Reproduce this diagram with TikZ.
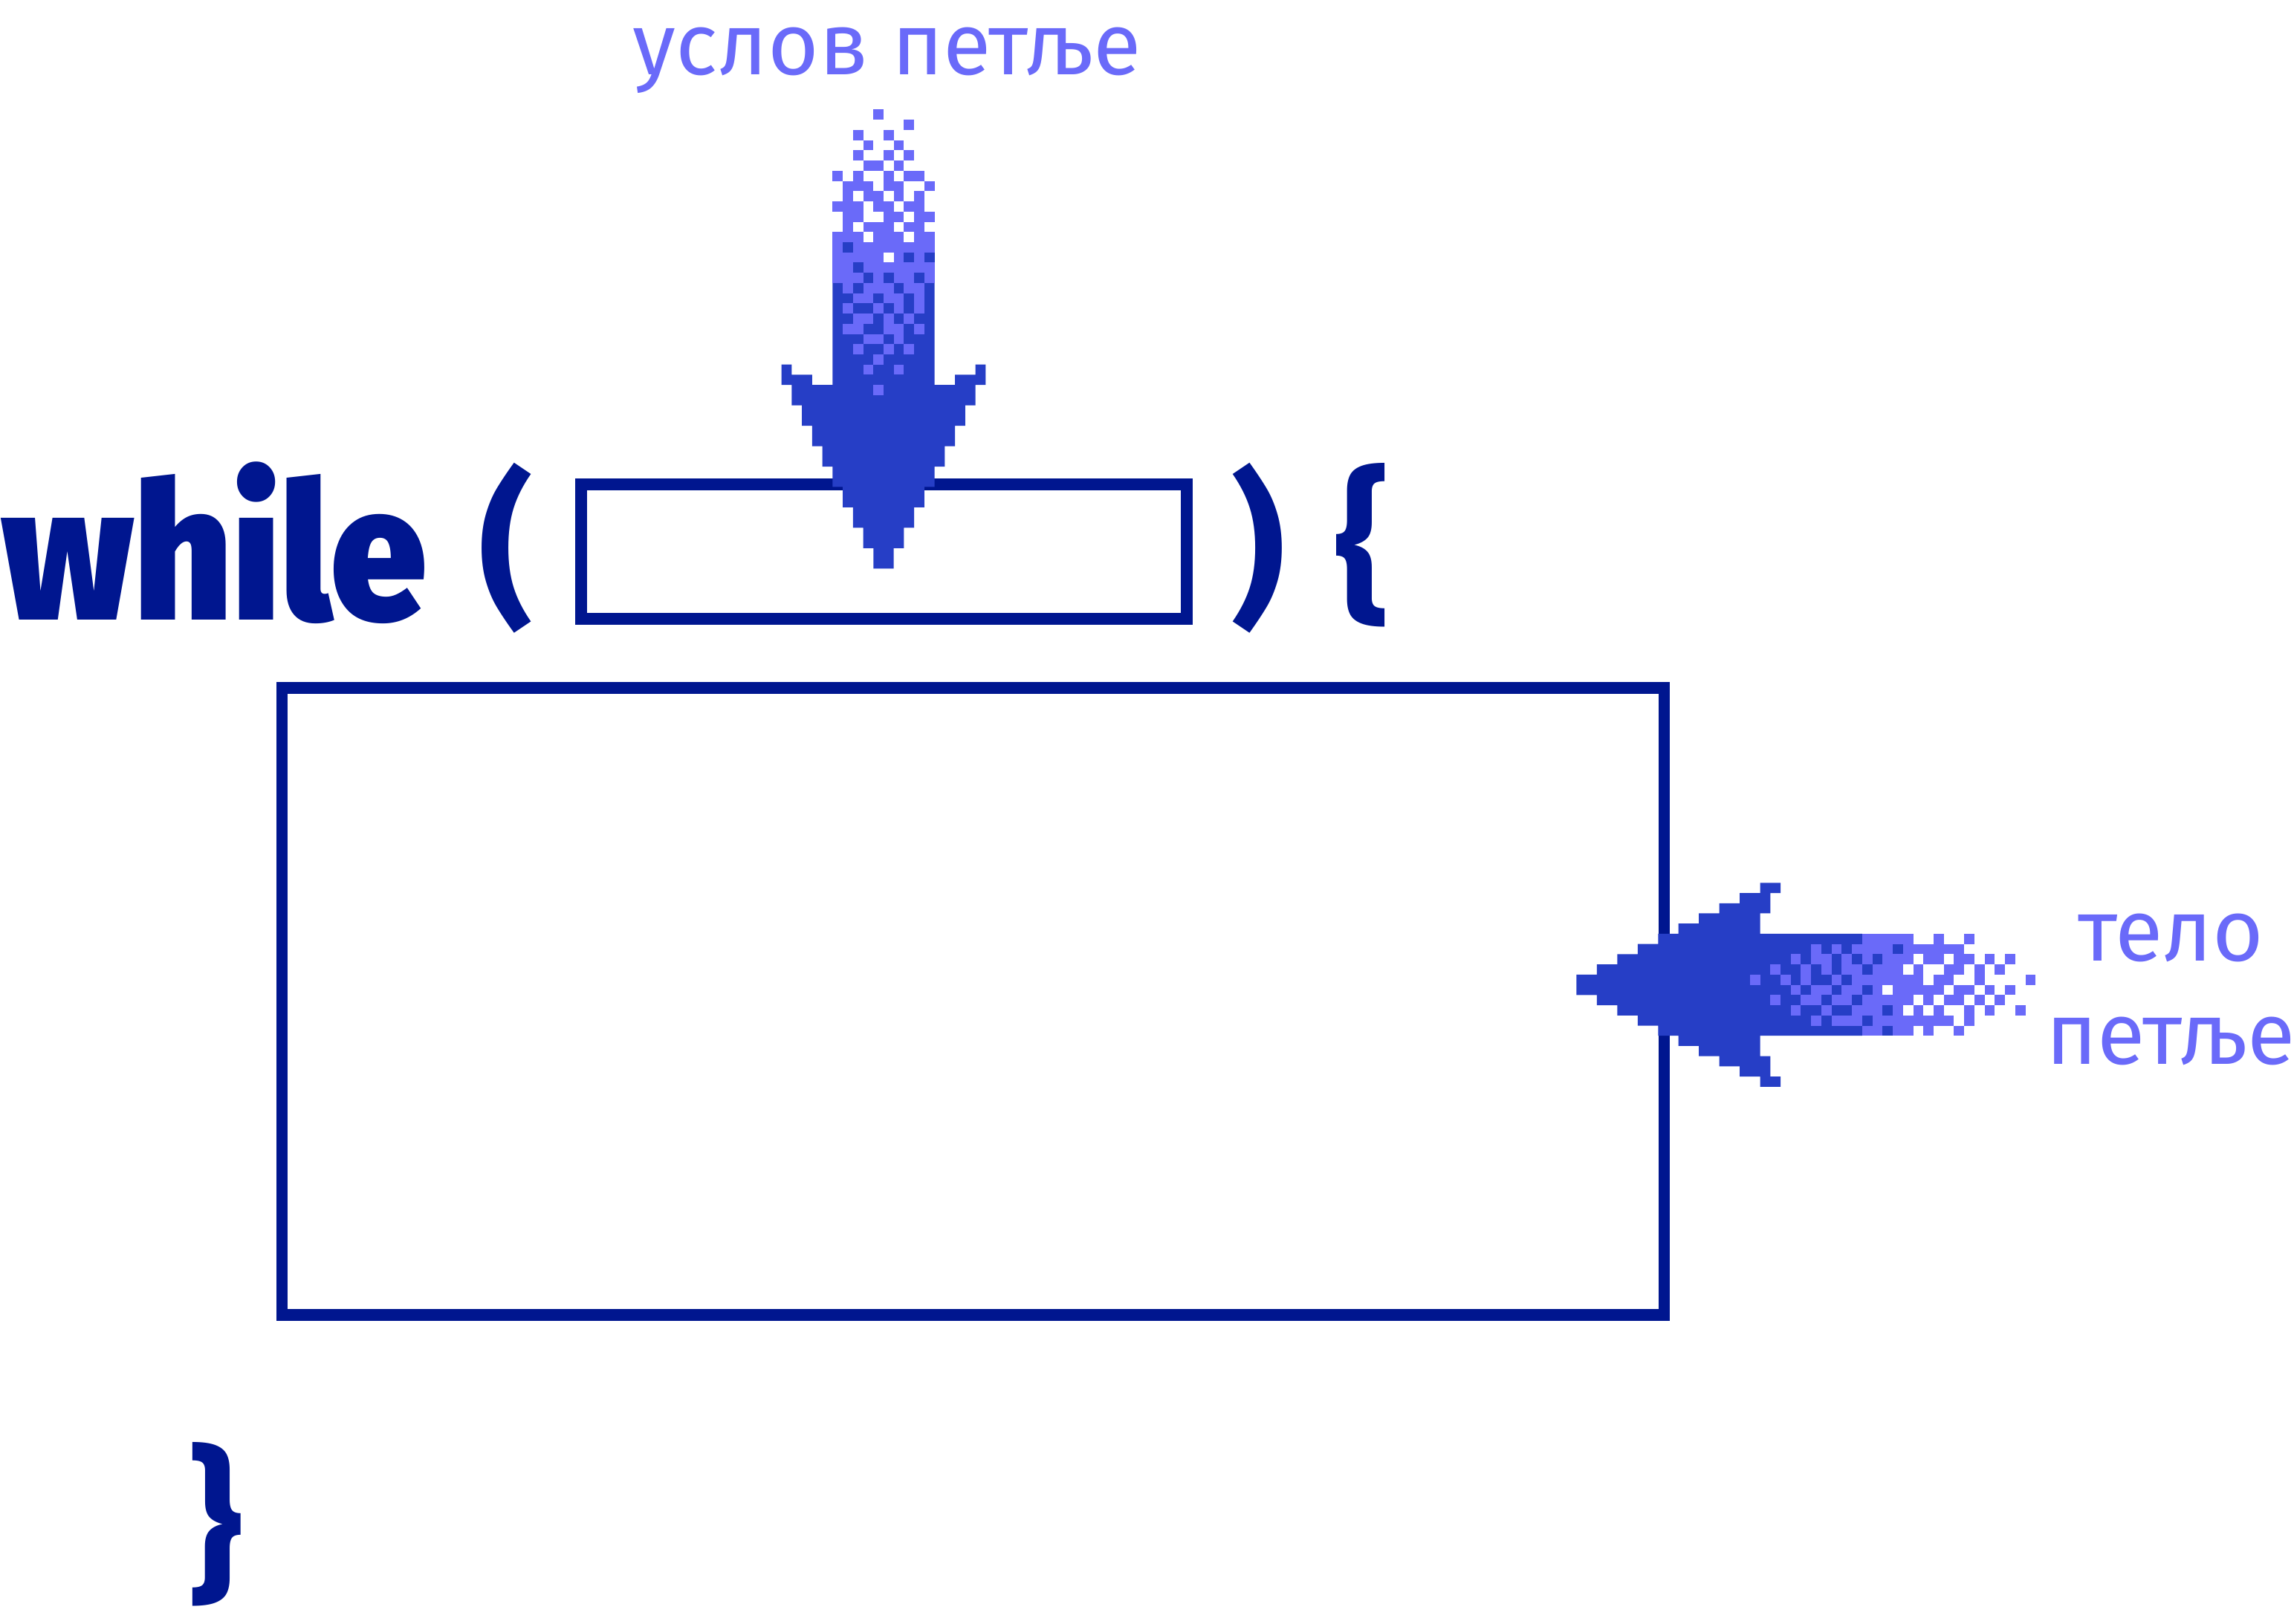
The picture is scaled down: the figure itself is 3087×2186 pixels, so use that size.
\documentclass[tikz,border=0pt]{standalone}
\usepackage{fontspec}
\setmainfont{Fira Sans}
\newfontfamily\kwfont{Fira Sans Black}
\usepackage{tikz}
\usepackage{xcolor}

\definecolor{codeblue}{HTML}{00168F}
\definecolor{arrowblue}{HTML}{263EC6}
\definecolor{pixlite}{HTML}{6A6AF9}

\tikzset{
  kwtext/.style={inner sep=0pt,text=codeblue,font=\kwfont\fontsize{73}{80}\selectfont},
  parentext/.style={inner sep=0pt,text=codeblue,font=\bfseries\fontsize{64}{70}\selectfont},
  labeltext/.style={inner sep=0pt,text=pixlite,align=center,font=\fontsize{33.5}{39.7}\selectfont},
  codebox/.style={draw=codeblue,line width=4.5pt,inner sep=0pt},
  darkpx/.style={fill=arrowblue},
  litepx/.style={fill=pixlite},
  whitepx/.style={fill=white}
}

\begin{document}
\begin{tikzpicture}[x=0.01cm,y=-0.01cm]
\useasboundingbox (0,0) rectangle (3087,2186);

%code line
\node[kwtext,anchor=base west] (kw) at (2,835) {\scalebox{0.9}[1]{while}};
\node[parentext,anchor=base] (lpar) at (681,817) {(};
\node[parentext,anchor=base] (rpar) at (1693,817) {)};
\node[parentext,anchor=base] (lbrace) at (1833,813) {\{};
\node[parentext,anchor=base] (rbrace) at (290,2130) {\}};

%boxes
\node[codebox,minimum width=8.15cm,minimum height=1.81cm] (cond) at (1189.5,742.5) {};
\node[codebox,minimum width=18.59cm,minimum height=8.44cm] (body) at (1309.5,1348) {};

%labels
\node[labeltext,anchor=base] (condlabel) at (1194,101) {услов петље};
\node[labeltext,anchor=base] (bodylabel) at (2921,1433) {тело\\петље};

%condition arrow
\begin{scope}[shift={(1051.7,147.5)},scale=13.73]
\fill[darkpx] (5,17)--(15,17)--(15,27)--(17,27)--(17,26)--(19,26)--(19,25)--(20,25)--(20,27)--(19,27)
  --(19,29)--(18,29)--(18,31)--(17,31)--(17,33)--(16,33)--(16,35)--(15,35)--(15,37)--(14,37)
  --(14,39)--(13,39)--(13,41)--(12,41)--(12,43)--(11,43)--(11,45)--(9,45)--(9,43)--(8,43)
  --(8,41)--(7,41)--(7,39)--(6,39)--(6,37)--(5,37)--(5,35)--(4,35)--(4,33)--(3,33)--(3,31)
  --(2,31)--(2,29)--(1,29)--(1,27)--(0,27)--(0,25)--(1,25)--(1,26)--(3,26)--(3,27)--(5,27)--cycle;
\fill[litepx] (5,12) rectangle (15,17);
\foreach \r/\cols in {0/{9},1/{12},2/{7,10},3/{8,11},4/{7,10,12},5/{8,9,11},6/{5,7,10,12,13},
    7/{6,7,8,10,11,14},8/{6,8,9,11,13},9/{5,6,7,9,10,12,13},10/{6,7,10,11,13,14},11/{6,8,9,10,12,13},
    17/{6,8,9,10,12,13},18/{7,8,10,11,13},19/{6,9,11,13},20/{7,8,10,12},21/{6,7,10,11,13},
    22/{8,9,11},23/{7,10,12},24/{9},25/{8,11},27/{9}}
  \foreach \c in \cols \fill[litepx] (\c,\r) rectangle ++(1,1);
\foreach \c/\r in {8/12,12/12,10/14}
  \fill[whitepx] (\c,\r) rectangle ++(1,1);
\foreach \c/\r in {6/13,12/14,14/14,7/15,8/16,10/16,13/16}
  \fill[darkpx] (\c,\r) rectangle ++(1,1);
\end{scope}

%body arrow
\begin{scope}[shift={(2121.4,1188.3)},scale=13.73]
\fill[darkpx] (18,0)--(20,0)--(20,1)--(19,1)--(19,3)--(18,3)--(18,5)--(28,5)--(28,15)--(18,15)
  --(18,17)--(19,17)--(19,19)--(20,19)--(20,20)--(18,20)--(18,19)--(16,19)--(16,18)--(14,18)
  --(14,17)--(12,17)--(12,16)--(10,16)--(10,15)--(8,15)--(8,14)--(6,14)--(6,13)--(4,13)
  --(4,12)--(2,12)--(2,11)--(0,11)--(0,9)--(2,9)--(2,8)--(4,8)--(4,7)--(6,7)--(6,6)--(8,6)
  --(8,5)--(10,5)--(10,4)--(12,4)--(12,3)--(14,3)--(14,2)--(16,2)--(16,1)--(18,1)--cycle;
\foreach \r/\cols in {5/{28,29,30,31,32,35,38},
    6/{23,25,27,28,29,30,32,33,34,35,36,37},
    7/{21,23,24,26,28,30,31,32,34,35,37,38,40,42},
    8/{19,22,24,26,27,29,30,31,33,36,37,39,41},
    9/{17,20,22,25,27,28,29,30,31,32,33,35,36,39,44},
    10/{21,23,24,26,27,29,31,32,33,34,35,37,38,40,42},
    11/{19,22,23,25,26,28,29,30,31,32,34,36,37,39,41},
    12/{21,24,27,28,29,31,33,35,38,40,43},
    13/{23,25,26,27,29,30,31,32,33,34,35,36,38},
    14/{28,29,31,32,34,37}}
  \foreach \c in \cols \fill[litepx] (\c,\r) rectangle ++(1,1);
\foreach \c/\r in {31/6,29/7,28/8,28/10,30/12,28/13,30/14}
  \fill[darkpx] (\c,\r) rectangle ++(1,1);
\end{scope}
\end{tikzpicture}
\end{document}
